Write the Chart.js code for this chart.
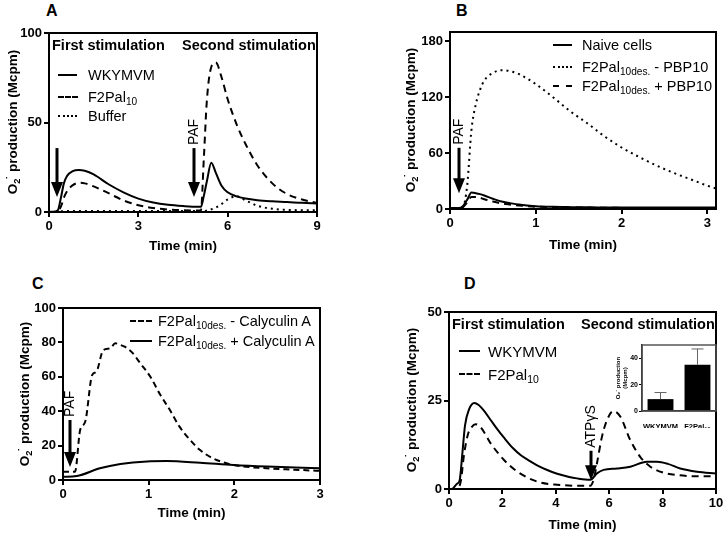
<!DOCTYPE html>
<html>
<head>
<meta charset="utf-8">
<script src="https://cdn.jsdelivr.net/npm/chart.js@4.4.1/dist/chart.umd.min.js"></script>
<style>
body { margin: 0; background: #fff; }
#fig { position: relative; width: 728px; height: 537px; overflow: hidden; font-family: "Liberation Sans", Arial, sans-serif; color: #000; background: #fff; }
canvas { position: absolute; }
.t { position: absolute; white-space: nowrap; line-height: 1; transform: translateY(-50%); }
.b { font-weight: bold; }
.yt { position: absolute; white-space: nowrap; font-weight: bold; font-size: 13.5px; line-height: 1; transform: translate(-50%, -50%) rotate(-90deg); }
.sw { position: absolute; height: 0; border-top: 2px solid #000; }
sub { font-size: 70%; vertical-align: -0.3em; line-height: 0; }
.yt sup { font-size: 80%; vertical-align: 0.3em; line-height: 0; margin-left: -1px; }
</style>
</head>
<body>
<div id="fig">
  <canvas id="chartA" width="329" height="231" style="left:0;top:23px"></canvas>
  <canvas id="chartB" width="364" height="231" style="left:364px;top:22px"></canvas>
  <canvas id="chartC" width="332" height="223" style="left:0;top:298px"></canvas>
  <canvas id="chartD" width="364" height="231" style="left:364px;top:302px"></canvas>
  <canvas id="chartInset" width="106" height="90" style="left:615px;top:338px"></canvas>

  <div class="t b" style="left:46px;top:11px;font-size:16px">A</div>
  <div class="t b" style="left:456px;top:11px;font-size:16px">B</div>
  <div class="t b" style="left:32px;top:284px;font-size:16px">C</div>
  <div class="t b" style="left:464px;top:284px;font-size:16px">D</div>

  <div class="yt" style="left:13px;top:122px">O<sub>2</sub><sup>˙</sup> production (Mcpm)</div>
  <div class="yt" style="left:411px;top:120px">O<sub>2</sub><sup>˙</sup> production (Mcpm)</div>
  <div class="yt" style="left:25px;top:394px">O<sub>2</sub><sup>˙</sup> production (Mcpm)</div>
  <div class="yt" style="left:412px;top:400px">O<sub>2</sub><sup>˙</sup> production (Mcpm)</div>

  <!-- A -->
  <div class="t b" style="left:52px;top:45px;font-size:14.5px">First stimulation</div>
  <div class="t b" style="left:182px;top:45px;font-size:14.5px">Second stimulation</div>
  <div class="sw" style="left:58px;top:74px;width:19px"></div>
  <div class="t" style="left:88px;top:75px;font-size:14.5px">WKYMVM</div>
  <div class="sw" style="left:58px;top:96px;width:20px;border-top-style:dashed"></div>
  <div class="t" style="left:88px;top:97px;font-size:14.5px">F2Pal<sub>10</sub></div>
  <div class="sw" style="left:58px;top:115px;width:19px;border-top-style:dotted"></div>
  <div class="t" style="left:88px;top:116px;font-size:14.5px">Buffer</div>

  <!-- B -->
  <div class="sw" style="left:553px;top:44px;width:19px"></div>
  <div class="t" style="left:582px;top:45px;font-size:14.5px">Naive cells</div>
  <div class="sw" style="left:553px;top:66px;width:19px;border-top-style:dotted"></div>
  <div class="t" style="left:582px;top:67px;font-size:14.5px">F2Pal<sub>10des.</sub> - PBP10</div>
  <div class="sw" style="left:553px;top:85px;width:19px;border-top-style:dashed"></div>
  <div class="t" style="left:582px;top:86px;font-size:14.5px">F2Pal<sub>10des.</sub> + PBP10</div>

  <!-- C -->
  <div class="sw" style="left:130px;top:320px;width:22px;border-top-style:dashed"></div>
  <div class="t" style="left:158px;top:321px;font-size:14.5px">F2Pal<sub>10des.</sub> - Calyculin A</div>
  <div class="sw" style="left:130px;top:340px;width:22px"></div>
  <div class="t" style="left:158px;top:341px;font-size:14.5px">F2Pal<sub>10des.</sub> + Calyculin A</div>

  <!-- D -->
  <div class="t b" style="left:452px;top:324px;font-size:14.5px">First stimulation</div>
  <div class="t b" style="left:581px;top:324px;font-size:14.5px">Second stimulation</div>
  <div class="sw" style="left:459px;top:350px;width:21px"></div>
  <div class="t" style="left:488px;top:351px;font-size:15px">WKYMVM</div>
  <div class="sw" style="left:459px;top:373px;width:21px;border-top-style:dashed"></div>
  <div class="t" style="left:488px;top:374px;font-size:15px">F2Pal<sub>10</sub></div>
</div>

<script>
const FF = '"Liberation Sans", Arial, sans-serif';

// Panel A: first/second stimulation, x in min, y in Mcpm
const aTicksX = [0, 3, 6, 9];
const aTicksY = [0, 50, 100];
const aTime = [0, 0.2, 0.3, 0.4, 0.5, 0.6, 0.8, 1.0, 1.2, 1.5, 2, 2.5, 3, 3.5, 4, 4.5, 5, 5.1, 5.2, 5.3, 5.45, 5.6, 5.8, 6, 6.3, 6.6, 7, 7.5, 8, 8.5, 9];
const aWkymvm = [0, 0.3, 1, 8, 16, 20, 22.8, 23.4, 23, 21, 15.5, 11, 7.5, 5.3, 4, 3.3, 2.9, 2.9, 9, 17, 27.5, 22, 14.5, 11, 8.7, 7.5, 6.6, 6, 5.6, 5.1, 4.8];
const aF2pal = [0, 0, 0.5, 3, 8, 11.5, 15, 16.3, 16, 14.3, 10.5, 6.5, 3.8, 2.2, 1.4, 1, 0.8, 0.8, 30, 62, 81, 83.5, 75, 63, 49, 38, 26, 16, 10, 7, 5];
const aBuffer = [0, 0, 0.2, 0.4, 0.5, 0.5, 0.5, 0.5, 0.5, 0.5, 0.5, 0.5, 0.5, 0.5, 0.5, 0.5, 0.5, 0.5, 0.5, 0.8, 1.5, 2.5, 4.5, 7, 8.8, 6.5, 3.5, 1.8, 1.2, 1, 1];

// Panel B
const bTicksX = [0, 1, 2, 3];
const bTicksY = [0, 60, 120, 180];
const bTime = [0, 0.1, 0.15, 0.2, 0.25, 0.3, 0.35, 0.4, 0.5, 0.6, 0.7, 0.8, 1, 1.2, 1.4, 1.6, 1.8, 2, 2.2, 2.4, 2.6, 2.8, 3, 3.1];
const bNaive = [1, 1, 3, 10, 17.6, 17, 16, 14.5, 11, 8, 6.3, 4.8, 3, 2.3, 2, 1.8, 1.7, 1.6, 1.5, 1.5, 1.5, 1.5, 1.5, 1.5];
const bMinusPbp = [1, 1, 2, 25, 85, 112, 128, 138, 146, 149, 148, 145, 134, 120, 105, 92, 78, 66, 56, 47, 39, 32, 25, 22];
const bPlusPbp = [1, 1, 2, 7, 13, 13, 12, 10.5, 8, 6, 4.8, 3.8, 2.5, 2, 1.7, 1.5, 1.3, 1.2, 1.1, 1, 1, 1, 1, 1];

// Panel C
const cTicksX = [0, 1, 2, 3];
const cTicksY = [0, 20, 40, 60, 80, 100];
const cTimeMinus = [0, 0.14, 0.2, 0.26, 0.34, 0.39, 0.47, 0.55, 0.61, 0.67, 0.72, 0.8, 0.9, 1.02, 1.13, 1.25, 1.36, 1.48, 1.6, 1.75, 1.91, 2.07, 2.38, 2.7, 3];
const cMinusCaly = [4.8, 4.8, 29, 34, 61, 63, 75.5, 76.5, 79.5, 78.5, 77.5, 74.5, 68, 60, 50, 40.5, 31, 23.5, 17.4, 12.6, 9.7, 8.1, 6.8, 6, 5.3];
const cTimePlus = [0, 0.16, 0.43, 0.67, 0.98, 1.21, 1.6, 1.99, 2.38, 3];
const cPlusCaly = [1.9, 2.3, 6.8, 9.3, 10.8, 11, 10, 8.7, 7.8, 6.8];

// Panel D
const dTicksX = [0, 2, 4, 6, 8, 10];
const dTicksY = [0, 25, 50];
const dTimeW = [0, 0.1, 0.3, 0.4, 0.5, 0.6, 0.75, 0.95, 1.1, 1.3, 1.56, 1.8, 2.06, 2.4, 2.68, 3.0, 3.3, 3.7, 4.05, 4.5, 4.79, 5.29, 5.54, 5.79, 6.29, 6.79, 7.41, 7.79, 8.2, 8.66, 9.29, 10];
const dWkymvm = [0, 0, 1.5, 2.5, 10, 18, 22.5, 24.3, 23.8, 22.2, 19.5, 17, 14.5, 11.5, 9.6, 8, 6.7, 5.3, 4.3, 3.4, 3.0, 2.6, 4.4, 5.4, 5.8, 6.3, 7.7, 7.7, 7.1, 5.8, 4.9, 4.4];
const dTimeF = [0, 0.2, 0.33, 0.45, 0.55, 0.7, 0.85, 1.0, 1.2, 1.56, 2.06, 2.56, 3.3, 4.05, 5.29, 5.41, 5.54, 5.73, 5.92, 6.15, 6.42, 6.79, 7.16, 7.54, 8.04, 8.6, 9.29, 10];
const dF2pal = [0, 0, 0.2, 2.5, 9, 15.2, 17.5, 18.3, 17.3, 12.9, 8.2, 4.9, 2.1, 1.2, 0.9, 2.5, 7.2, 14.8, 19.5, 22, 20.4, 13.8, 9.1, 6.3, 4.6, 3.9, 3.6, 3.6];

// Inset of D
const inCats = ['WKYMVM', 'F2Pal₁₀'];
const inMeans = [9, 35];
const inErr = [5, 12];
const inTicksY = [0, 20, 40];

function pts(xs, ys) {
    return xs.map((x, i) => ({ x: x, y: ys[i] }));
}

function line(xs, ys, dash) {
    return {
        data: pts(xs, ys),
        borderColor: '#000',
        borderWidth: 2,
        borderDash: dash,
        pointRadius: 0,
        cubicInterpolationMode: 'monotone',
        fill: false
    };
}

const framePlugin = {
    id: 'frame',
    afterDraw(chart, args, opts) {
        const a = chart.chartArea;
        const ctx = chart.ctx;
        ctx.save();
        ctx.strokeStyle = opts.color || '#000';
        ctx.lineWidth = opts.width || 2;
        ctx.strokeRect(a.left, a.top, a.right - a.left, a.bottom - a.top);
        ctx.restore();
    }
};

const arrowPlugin = {
    id: 'arrows',
    afterDatasetsDraw(chart, args, opts) {
        const items = opts.items || [];
        const ctx = chart.ctx;
        const xs = chart.scales.x, ys = chart.scales.y;
        items.forEach(it => {
            const px = Math.round(xs.getPixelForValue(it.x));
            const y0 = ys.getPixelForValue(it.top);
            const y1 = ys.getPixelForValue(it.tip);
            ctx.save();
            ctx.fillStyle = '#000';
            ctx.fillRect(px - 1.5, y0, 3, y1 - y0 - 13);
            ctx.beginPath();
            ctx.moveTo(px - 6, y1 - 15);
            ctx.lineTo(px + 6, y1 - 15);
            ctx.lineTo(px, y1);
            ctx.closePath();
            ctx.fill();
            if (it.label) {
                ctx.translate(px, y0 - 3);
                ctx.rotate(-Math.PI / 2);
                ctx.textAlign = 'left';
                ctx.textBaseline = 'middle';
                ctx.font = (it.size || 13) + 'px ' + FF;
                ctx.fillText(it.label, 0, 0);
            }
            ctx.restore();
        });
    }
};

const errPlugin = {
    id: 'errbars',
    afterDatasetsDraw(chart, args, opts) {
        const ctx = chart.ctx;
        const meta = chart.getDatasetMeta(0);
        const ys = chart.scales.y;
        ctx.save();
        ctx.strokeStyle = '#666';
        ctx.lineWidth = 1;
        meta.data.forEach((bar, i) => {
            const top = ys.getPixelForValue(inMeans[i] + inErr[i]);
            ctx.beginPath();
            ctx.moveTo(bar.x, bar.y);
            ctx.lineTo(bar.x, top);
            ctx.moveTo(bar.x - 6, top);
            ctx.lineTo(bar.x + 6, top);
            ctx.stroke();
        });
        ctx.restore();
    }
};

function axes(xmin, xmax, xt, ymax, yt, yw, xh) {
    const tickFont = { size: 13, weight: 'bold', family: FF };
    return {
        x: {
            type: 'linear', min: xmin, max: xmax,
            afterBuildTicks: s => { s.ticks = xt.map(v => ({ value: v })); },
            afterFit: s => { s.height = xh; },
            grid: { display: true, drawOnChartArea: false, drawTicks: true, tickLength: 5, color: '#000', lineWidth: 2 },
            border: { display: true, color: '#000', width: 2 },
            ticks: { color: '#000', font: tickFont, padding: 2, maxRotation: 0 },
            title: { display: true, text: 'Time (min)', color: '#000', font: { size: 13.5, weight: 'bold', family: FF }, padding: 0 }
        },
        y: {
            type: 'linear', min: 0, max: ymax,
            afterBuildTicks: s => { s.ticks = yt.map(v => ({ value: v })); },
            afterFit: s => { s.width = yw; },
            grid: { display: true, drawOnChartArea: false, drawTicks: true, tickLength: 5, color: '#000', lineWidth: 2 },
            border: { display: true, color: '#000', width: 2 },
            ticks: { color: '#000', font: tickFont, padding: 2 }
        }
    };
}

function makeChart(id, datasets, scales, arrows) {
    new Chart(document.getElementById(id), {
        type: 'line',
        data: { datasets: datasets },
        options: {
            responsive: false,
            animation: false,
            layout: { padding: { left: 0, top: 10, right: 12, bottom: 0 } },
            scales: scales,
            plugins: {
                legend: { display: false },
                tooltip: { enabled: false },
                frame: { width: 2 },
                arrows: { items: arrows }
            }
        },
        plugins: [framePlugin, arrowPlugin]
    });
}

makeChart('chartA', [
    line(aTime, aWkymvm, []),
    line(aTime, aF2pal, [7, 5]),
    line(aTime, aBuffer, [2, 4])
], axes(0, 9, aTicksX, 100, aTicksY, 49, 42), [
    { x: 0.27, top: 35.7, tip: 8.4 },
    { x: 4.88, top: 35.7, tip: 8.4, label: 'PAF', size: 14 }
]);

makeChart('chartB', [
    line(bTime, bNaive, []),
    line(bTime, bMinusPbp, [2, 4]),
    line(bTime, bPlusPbp, [7, 5])
], axes(0, 3.1, bTicksX, 190, bTicksY, 86, 44), [
    { x: 0.105, top: 65.7, tip: 17, label: 'PAF', size: 14 }
]);

makeChart('chartC', [
    line(cTimeMinus, cMinusCaly, [6, 4]),
    line(cTimePlus, cPlusCaly, [])
], axes(0, 3, cTicksX, 100, cTicksY, 63, 41), [
    { x: 0.082, top: 34.9, tip: 7.6, label: 'PAF', size: 14 }
]);

makeChart('chartD', [
    line(dTimeW, dWkymvm, []),
    line(dTimeF, dF2pal, [7, 5])
], axes(0, 10, dTicksX, 50, dTicksY, 85, 44), [
    { x: 5.33, top: 10.8, tip: 2.5, label: 'ATPγS', size: 14 }
]);

new Chart(document.getElementById('chartInset'), {
    type: 'bar',
    data: {
        labels: inCats,
        datasets: [{ data: inMeans, backgroundColor: '#000', barPercentage: 0.7, categoryPercentage: 1 }]
    },
    options: {
        responsive: false,
        animation: false,
        layout: { padding: { left: 0, top: 7, right: 5, bottom: 0 } },
        scales: {
            x: {
                afterFit: s => { s.height = 17; },
                grid: { display: false },
                border: { display: true, color: '#000', width: 1.5 },
                ticks: { color: '#000', font: { size: 7.5, weight: 'bold', family: FF }, padding: 3, maxRotation: 0, autoSkip: false }
            },
            y: {
                min: 0, max: 50,
                afterBuildTicks: s => { s.ticks = inTicksY.map(v => ({ value: v })); },
                afterFit: s => { s.width = 27; },
                grid: { display: true, drawOnChartArea: false, tickLength: 3, color: '#000', lineWidth: 1 },
                border: { display: true, color: '#000', width: 1.5 },
                ticks: { color: '#000', font: { size: 7, weight: 'bold', family: FF }, padding: 1 },
                title: { display: true, text: ['O₂˙ production', '(Mcpm)'], color: '#000', font: { size: 6, weight: 'bold', family: FF }, padding: 0 }
            }
        },
        plugins: {
            legend: { display: false },
            tooltip: { enabled: false },
            frame: { width: 1.5, color: '#555' }
        }
    },
    plugins: [framePlugin, errPlugin]
});
</script>
</body>
</html>
